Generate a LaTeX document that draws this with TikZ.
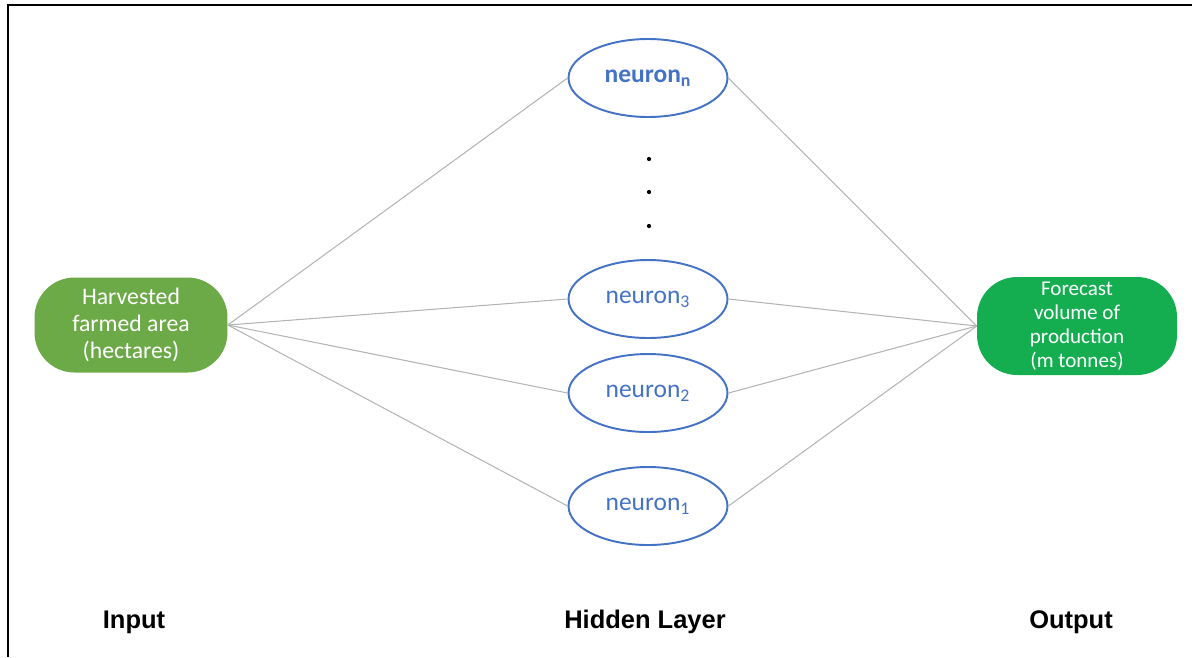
\documentclass[tikz,border=0pt]{standalone}
\usepackage{fontspec}
\setmainfont{Carlito}
\newfontfamily\labelfont{Liberation Sans}
\usetikzlibrary{positioning, shapes.geometric}

\definecolor{inputgreen}{RGB}{108,170,72}
\definecolor{outputgreen}{RGB}{20,174,80}
\definecolor{neuronblue}{RGB}{68,114,196}
\definecolor{linkgray}{RGB}{180,180,180}

\begin{document}
\begin{tikzpicture}[
    x=0.02cm, y=-0.02cm,
    layerbox/.style={
        rounded corners=0.8cm,
        fill=#1,
        text=white,
        align=center,
        inner sep=0pt
    },
    neuron/.style={
        ellipse,
        draw=neuronblue,
        line width=1.1pt,
        fill=white,
        text=neuronblue,
        minimum width=3.18cm,
        minimum height=1.56cm,
        font=\fontsize{14.5}{17}\selectfont
    },
    link/.style={draw=linkgray, line width=0.6pt},
    layerlabel/.style={font=\labelfont\bfseries\fontsize{14.5}{17}\selectfont}
]
\useasboundingbox (0,0) rectangle (1192,657);

% frame
\draw[line width=1.2pt] (8,657) -- (8,5) -- (1192,5);

% input and output
\node[layerbox=inputgreen, minimum width=3.86cm, minimum height=1.9cm,
      font=\fontsize{13.5}{15.5}\selectfont] (in) at (131,325)
      {Harvested\\farmed area\\(hectares)};
\node[layerbox=outputgreen, minimum width=4cm, minimum height=1.96cm,
      font=\fontsize{12}{13.7}\selectfont] (out) at (1077,326)
      {Forecast\\volume of\\production\\(m tonnes)};

% hidden layer
\node[neuron] (nn) at (648,78) {\bfseries neuron\textsubscript{n}};
\node[neuron] (n3) at (648,299) {neuron\textsubscript{3}};
\node[neuron] (n2) at (648,393) {neuron\textsubscript{2}};
\node[neuron] (n1) at (648,506) {neuron\textsubscript{1}};

\foreach \y in {159,192,226}
    \fill (649,\y) circle (1.2pt);

% links
\foreach \n in {nn,n3,n2,n1} {
    \draw[link] (in.east) -- (\n.west);
    \draw[link] (\n.east) -- (out.west);
}

% layer names
\node[layerlabel] (inlabel) at (134,622) {Input};
\node[layerlabel] (hidlabel) at (645,622) {Hidden Layer};
\node[layerlabel] (outlabel) at (1071,622) {Output};

\end{tikzpicture}
\end{document}
